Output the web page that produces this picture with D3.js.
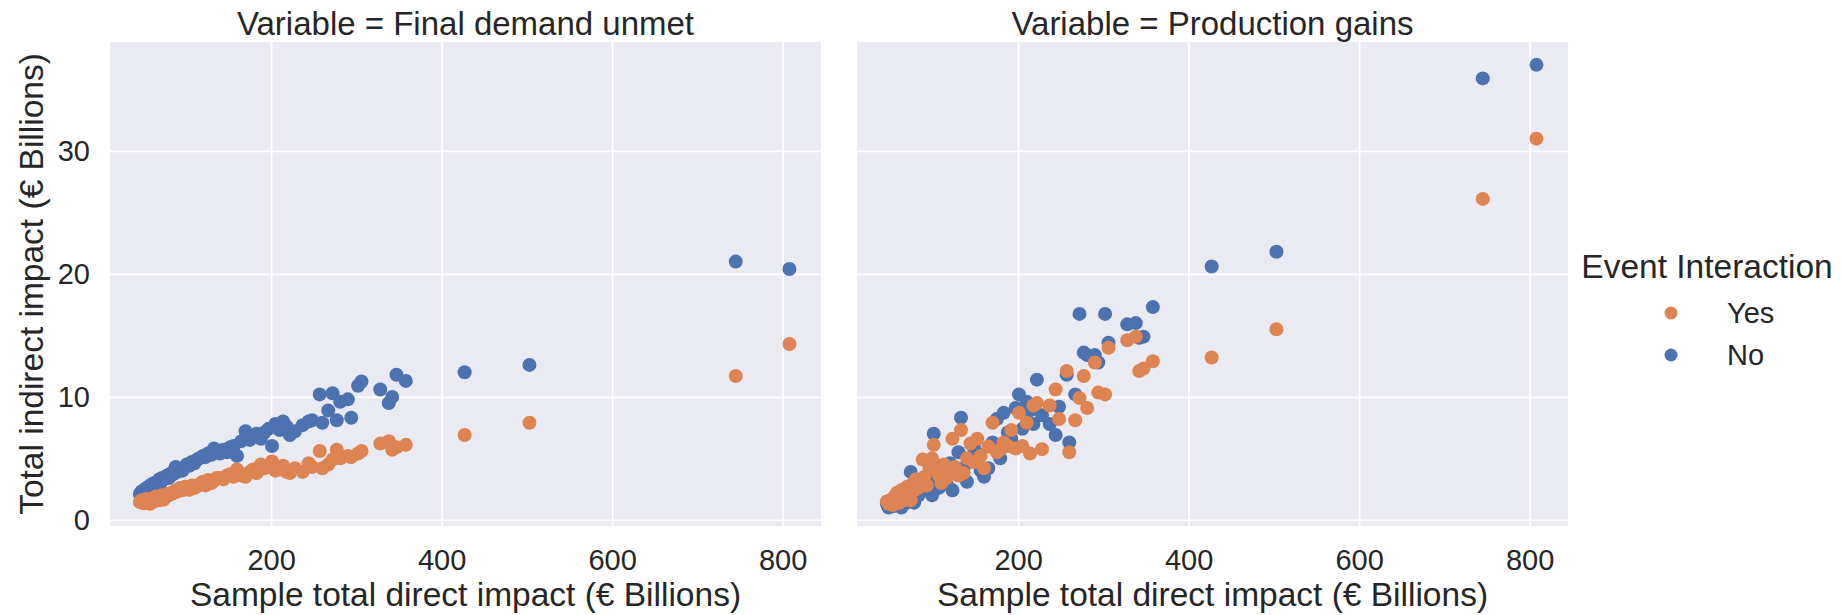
<!DOCTYPE html>
<html>
<head>
<meta charset="utf-8">
<script src="https://cdnjs.cloudflare.com/ajax/libs/d3/7.8.5/d3.min.js"></script>
<style>
  body { margin: 0; background: #fff; }
  text { font-family: "Liberation Sans", Arial, sans-serif; fill: #262626; }
</style>
</head>
<body>
<div id="chart"></div>
<script>
// sample total direct impact, shared by both panels
var directImpact = [46, 48, 50, 52, 53, 55, 56, 58, 60, 61, 63, 65, 67, 69, 70, 72, 74, 76, 78, 80,
  83, 85, 88, 90, 93, 96, 99, 101, 104, 107, 110, 113, 116, 120, 123, 126, 130, 133, 136, 140,
  144, 148, 152, 156, 160, 165, 170, 175, 179, 183, 188, 192, 197, 201, 205, 210, 214, 218, 222, 228,
  237, 244, 248, 257, 260, 267, 272, 277, 281, 290, 294, 302, 306, 328, 338, 342, 347, 358, 427, 503,
  745, 808];
// Final demand unmet
var demandNo = [2.1, 2.3, 2.2, 2.5, 2.4, 2.6, 2.7, 2.5, 2.9, 2.8, 3.0, 2.9, 3.1, 3.3, 3.0, 3.4, 3.3, 3.5, 3.6, 3.4,
  3.8, 3.7, 4.3, 3.9, 4.1, 4.0, 4.3, 4.5, 4.4, 4.7, 4.6, 4.9, 5.0, 5.2, 5.1, 5.4, 5.3, 5.8, 5.6, 5.4,
  5.7, 5.5, 5.9, 6.0, 5.2, 6.4, 7.2, 6.5, 6.8, 7.0, 6.6, 7.1, 7.4, 6.0, 7.8, 7.3, 8.0, 7.6, 6.9, 7.2,
  7.7, 8.0, 8.1, 10.2, 7.9, 8.9, 10.3, 8.1, 9.6, 9.8, 8.3, 10.9, 11.25, 10.6, 9.5, 10.0, 11.8, 11.3, 12.0, 12.6,
  21.0, 20.4];
var demandYes = [1.45, 1.6, 1.35, 1.5, 1.7, 1.4, 1.55, 1.3, 1.6, 1.75, 1.5, 1.9, 1.7, 1.6, 1.8, 2.0, 1.65, 1.9, 2.1, 2.0,
  2.2, 2.15, 2.4, 2.3, 2.6, 2.4, 2.7, 2.5, 2.44, 2.8, 2.6, 2.7, 2.9, 3.1, 2.8, 3.25, 3.0, 3.2, 3.4, 3.4,
  3.3, 3.6, 3.7, 3.5, 4.1, 3.6, 3.5, 3.9, 4.1, 3.8, 4.5, 4.2, 4.3, 4.74, 4.0, 4.1, 4.4, 3.9, 3.8, 4.2,
  3.9, 4.6, 4.3, 5.6, 4.2, 4.5, 4.9, 5.7, 5.0, 5.2, 5.1, 5.4, 5.6, 6.2, 6.4, 5.7, 5.9, 6.1, 6.9, 7.9,
  11.7, 14.3];
// Production gains
var gainsNo = [1.3, 1.0, 1.2, 1.5, 1.1, 1.3, 1.6, 1.2, 1.4, 2.1, 1.0, 1.8, 1.3, 2.6, 1.5, 1.9, 3.9, 2.2, 1.4, 2.8,
  2.0, 2.4, 3.0, 2.5, 3.4, 2.7, 2.0, 7.0, 3.3, 2.6, 4.4, 3.6, 3.0, 4.6, 2.4, 3.8, 5.5, 8.3, 4.2, 3.1,
  4.8, 5.9, 5.4, 4.0, 3.5, 4.2, 6.3, 8.2, 5.0, 8.7, 7.1, 6.6, 9.1, 10.2, 7.4, 9.6, 8.9, 7.8, 11.4, 8.5,
  7.8, 6.9, 9.2, 11.8, 6.3, 10.2, 16.75, 13.6, 13.4, 13.4, 12.8, 16.75, 14.4, 15.9, 16.0, 14.8, 14.9, 17.3, 20.6, 21.8,
  35.9, 37.0];
var gainsYes = [1.5, 1.3, 1.6, 1.4, 1.2, 1.9, 1.5, 2.2, 1.7, 1.4, 2.4, 1.6, 2.0, 1.8, 2.7, 2.2, 1.6, 2.9, 2.4, 3.3,
  2.6, 3.1, 4.9, 3.5, 2.8, 4.2, 5.0, 6.1, 4.1, 3.6, 3.0, 4.5, 3.4, 3.8, 6.6, 4.3, 3.6, 7.3, 3.8, 5.0,
  6.2, 4.7, 6.6, 5.2, 4.2, 5.96, 7.9, 5.5, 5.7, 6.3, 6.0, 7.3, 5.8, 8.7, 6.0, 7.9, 5.4, 9.3, 9.5, 5.75,
  9.3, 10.6, 8.2, 12.1, 5.5, 8.1, 9.9, 11.7, 9.1, 12.8, 10.35, 10.2, 14.0, 14.6, 14.9, 12.1, 12.3, 12.9, 13.2, 15.5,
  26.1, 31.0];

var panelTitles = ["Variable = Final demand unmet", "Variable = Production gains"];
var legendTitle = "Event Interaction";
var legendLabels = ["Yes", "No"];
var xTicks = [200, 400, 600, 800];
var yTicks = [0, 10, 20, 30];

var svgWidth = 1841;
var svgHeight = 615;
var panelTop = 42;
var panelWidth = 711;
var panelHeight = 484;
var panelLefts = [110, 857];
var colors = { Yes: "#dd8452", No: "#4c72b0" };

var panels = [
  { title: panelTitles[0], no: demandNo, yes: demandYes },
  { title: panelTitles[1], no: gainsNo, yes: gainsYes }
];

var svg = d3.select("#chart")
  .append("svg")
    .attr("width", svgWidth)
    .attr("height", svgHeight);

var xScale = d3.scaleLinear()
  .domain([11, 845])
  .range([0, panelWidth]);
var yScale = d3.scaleLinear()
  .domain([-0.5, 38.86])
  .range([panelHeight, 0]);

panels.forEach(function(p, i) {
  var g = svg.append("g")
    .attr("transform", `translate(${panelLefts[i]}, ${panelTop})`);

  g.append("rect")
    .attr("width", panelWidth)
    .attr("height", panelHeight)
    .attr("fill", "#eaeaf2");

  var bottomAxis = d3.axisBottom(xScale)
    .tickValues(xTicks)
    .tickSize(-panelHeight)
    .tickPadding(23);
  var leftAxis = d3.axisLeft(yScale)
    .tickValues(yTicks)
    .tickSize(-panelWidth)
    .tickPadding(20);
  if (i > 0) leftAxis.tickFormat("");

  var xg = g.append("g")
    .attr("transform", `translate(0, ${panelHeight})`)
    .call(bottomAxis);
  var yg = g.append("g")
    .call(leftAxis);

  [xg, yg].forEach(function(ax) {
    ax.attr("font-size", 29)
      .attr("font-family", null);
    ax.select(".domain").remove();
    ax.selectAll(".tick line")
      .attr("stroke", "#fff")
      .attr("stroke-width", 1.8);
    ax.selectAll(".tick text")
      .attr("fill", "#262626");
  });

  var series = [
    { key: "No", vals: p.no },
    { key: "Yes", vals: p.yes }
  ];
  series.forEach(function(s) {
    g.append("g")
      .selectAll("circle")
      .data(directImpact)
      .enter()
      .append("circle")
        .attr("cx", d => xScale(d))
        .attr("cy", (d, j) => yScale(s.vals[j]))
        .attr("r", 7)
        .attr("fill", colors[s.key]);
  });

  g.append("text")
    .attr("x", panelWidth / 2)
    .attr("y", -7)
    .attr("text-anchor", "middle")
    .attr("font-size", 33)
    .text(p.title);

  g.append("text")
    .attr("x", panelWidth / 2)
    .attr("y", 566 - panelTop + 40)
    .attr("text-anchor", "middle")
    .attr("font-size", 33.5)
    .text("Sample total direct impact (\u20ac Billions)");
});

svg.append("text")
  .attr("transform", `translate(43, ${panelTop + panelHeight / 2}) rotate(-90)`)
  .attr("text-anchor", "middle")
  .attr("font-size", 33.5)
  .text("Total indirect impact (\u20ac Billions)");

// legend
var legend = svg.append("g");
legend.append("text")
  .attr("x", 1707)
  .attr("y", 278)
  .attr("text-anchor", "middle")
  .attr("font-size", 33.5)
  .text(legendTitle);
legendLabels.forEach(function(lab, i) {
  legend.append("circle")
    .attr("cx", 1671)
    .attr("cy", 313 + i * 42)
    .attr("r", 6.5)
    .attr("fill", colors[lab]);
  legend.append("text")
    .attr("x", 1727)
    .attr("y", 323 + i * 42)
    .attr("font-size", 29)
    .text(lab);
});
</script>
</body>
</html>
